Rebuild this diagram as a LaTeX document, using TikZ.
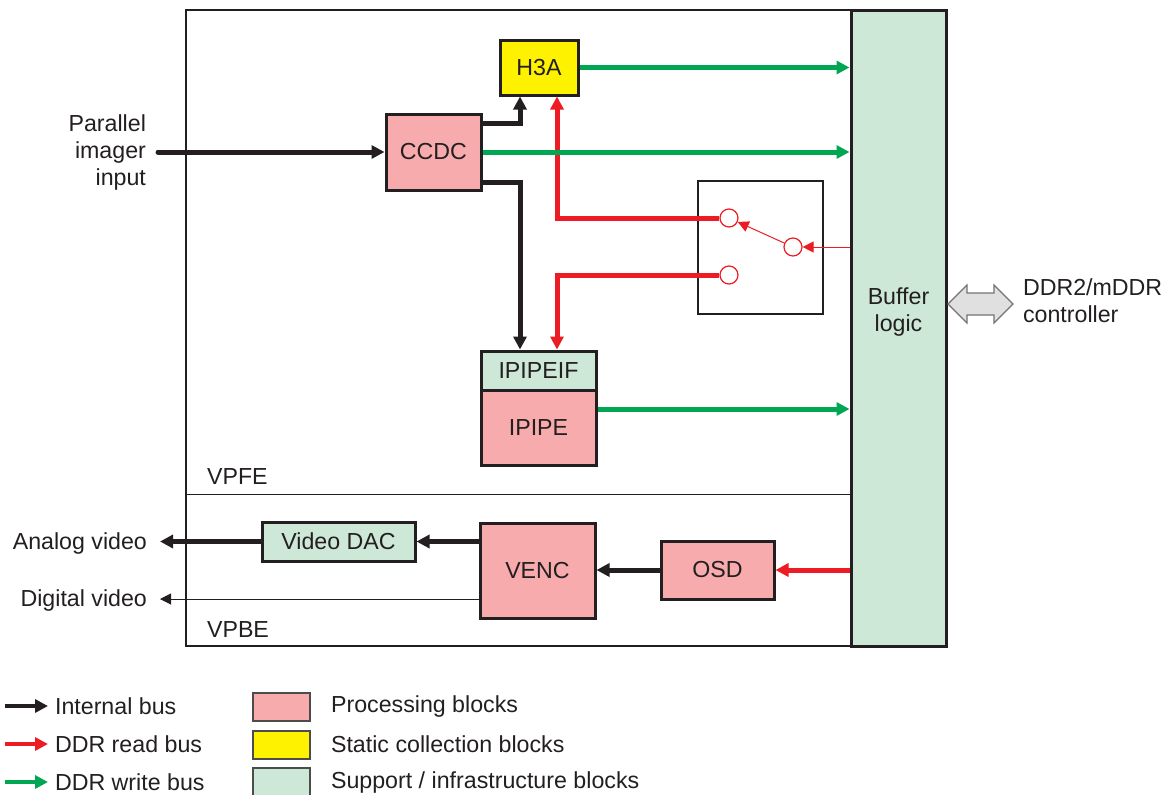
\documentclass[tikz,border=0pt]{standalone}
\usepackage{fontspec}
\setmainfont{Liberation Sans}
\usetikzlibrary{arrows.meta}
\definecolor{txtblack}{HTML}{231F20}
\definecolor{procpink}{HTML}{F7ABAD}
\definecolor{statyellow}{HTML}{FFF200}
\definecolor{suppgreen}{HTML}{CDE8D6}
\definecolor{busred}{HTML}{ED1C24}
\definecolor{busgreen}{HTML}{00A651}
\begin{document}
\begin{tikzpicture}[x=0.5pt,y=-0.5pt,
  font=\fontsize{11.6}{13.5}\selectfont, text=txtblack,
  blk/.style={draw=txtblack, line width=1.5pt, inner sep=0pt, align=center},
  proc/.style={blk, fill=procpink},
  stat/.style={blk, fill=statyellow},
  supp/.style={blk, fill=suppgreen},
  ibus/.style={draw=txtblack, line width=2.5pt, -{Triangle[length=6.5pt,width=6.5pt]}},
  rbus/.style={ibus, draw=busred},
  wbus/.style={ibus, draw=busgreen},
  thinbus/.style={line width=0.5pt, -{Triangle[length=5.5pt,width=5.5pt]}},
  swdot/.style={circle, draw=busred, fill=white, line width=0.6pt, minimum size=9pt, inner sep=0pt}
]
\useasboundingbox (0,0) rectangle (1169,794);

% frame and separator
\draw[txtblack, line width=1pt] (186,10) rectangle (851,646);
\draw[txtblack, line width=0.5pt] (186,494) -- (851,494);
\node[anchor=west] (vpfe) at (200,477) {VPFE};
\node[anchor=west] (vpbe) at (200,630) {VPBE};

% blocks
\node[supp, minimum width=47.5pt, minimum height=318pt] (buffer) at (898.5,328) {};
\node[align=center] (buftxt) at (898.5,312) {Buffer\\logic};
\node[stat, minimum width=39pt, minimum height=27.5pt] (h3a) at (539,67.5) {H3A};
\node[proc, minimum width=47.5pt, minimum height=38pt] (ccdc) at (433.5,152) {CCDC};
\node[supp, minimum width=57.5pt, minimum height=19.5pt] (ipipeif) at (538.5,370.5) {IPIPEIF};
\node[proc, minimum width=57.5pt, minimum height=37.5pt] (ipipe) at (538.5,428) {IPIPE};
\node[supp, minimum width=76.5pt, minimum height=19.5pt] (dac) at (338.5,541.5) {Video DAC};
\node[proc, minimum width=57.5pt, minimum height=47.5pt] (venc) at (537.5,571) {VENC};
\node[proc, minimum width=56.5pt, minimum height=29pt] (osd) at (717.5,570) {OSD};

% switch
\node[draw=txtblack, line width=1pt, minimum width=62.5pt, minimum height=66.5pt] (switch) at (760.5,247.5) {};
\node[swdot] (c1) at (729,218) {};
\node[swdot] (c2) at (793,247) {};
\node[swdot] (c3) at (729,275) {};

% inputs and outputs
\node[anchor=east, align=right] (parin) at (153,152) {Parallel\\imager\\input};
\coordinate (parstart) at (158,152);
\coordinate (analog) at (160,541.5);
\coordinate (digital) at (160,599);
\node[anchor=east] (analogtxt) at (154,543) {Analog video};
\node[anchor=east] (digitaltxt) at (154,600) {Digital video};

% internal bus
\draw[ibus, line cap=round] (parstart) -- (ccdc.west);
\draw[ibus] ([yshift=14.5pt]ccdc.east) -| ([xshift=-9.5pt]h3a.south);
\draw[ibus] ([yshift=-15pt]ccdc.east) -| ([xshift=-9.25pt]ipipeif.north);
\draw[ibus] (osd.west) -- (osd.west -| venc.east);
\draw[ibus] (dac.east -| venc.west) -- (dac.east);
\draw[ibus] (dac.west) -- (analog);
\draw[thinbus, txtblack] (venc.west |- digital) -- (digital);

% DDR read bus
\draw[rbus] (c1.west) -| ([xshift=9pt]h3a.south);
\draw[rbus] (c3.west) -| ([xshift=9.25pt]ipipeif.north);
\draw[thinbus, busred] (c2 -| buffer.west) -- (c2);
\draw[thinbus, busred] (c2) -- (c1);
\draw[rbus] (osd -| buffer.west) -- (osd.east);

% DDR write bus
\draw[wbus] (h3a.east) -- (h3a.east -| buffer.west);
\draw[wbus] (ccdc.east) -- (ccdc.east -| buffer.west);
\draw[wbus] ([yshift=9.5pt]ipipe.east) -- ([yshift=9.5pt]ipipe.east -| buffer.west);

% DDR controller
\draw[draw=black!55, fill=black!12, line width=0.6pt]
  (948,304) -- (967,285) -- (967,293) -- (994,293) -- (994,285) -- (1013,304)
  -- (994,323) -- (994,315) -- (967,315) -- (967,323) -- cycle;
\node[anchor=west, align=left] (ddr) at (1016,301) {DDR2/mDDR\\controller};

% legend
\node[anchor=west] (lgint) at (48,706) {Internal bus};
\node[anchor=west] (lgrd) at (48,744) {DDR read bus};
\node[anchor=west] (lgwr) at (48,782) {DDR write bus};
\coordinate (lgint0) at (5,706);
\coordinate (lgrd0) at (5,744);
\coordinate (lgwr0) at (5,782);
\draw[ibus, line width=2pt] (lgint0) -- (lgint.west);
\draw[rbus, line width=2pt] (lgrd0) -- (lgrd.west);
\draw[wbus, line width=2pt] (lgwr0) -- (lgwr.west);
\node[draw=black!70, fill=procpink, line width=0.6pt, minimum width=28.5pt, minimum height=14pt] (swproc) at (281.5,707) {};
\node[draw=black!70, fill=statyellow, line width=0.6pt, minimum width=28.5pt, minimum height=14pt] (swstat) at (281.5,745) {};
\node[draw=black!70, fill=suppgreen, line width=0.6pt, minimum width=28.5pt, minimum height=14pt] (swsupp) at (281.5,782) {};
\node[anchor=west] (lgproc) at (324,706) {Processing blocks};
\node[anchor=west] (lgstat) at (324,744) {Static collection blocks};
\node[anchor=west] (lgsupp) at (324,782) {Support / infrastructure blocks};
\end{tikzpicture}
\end{document}
